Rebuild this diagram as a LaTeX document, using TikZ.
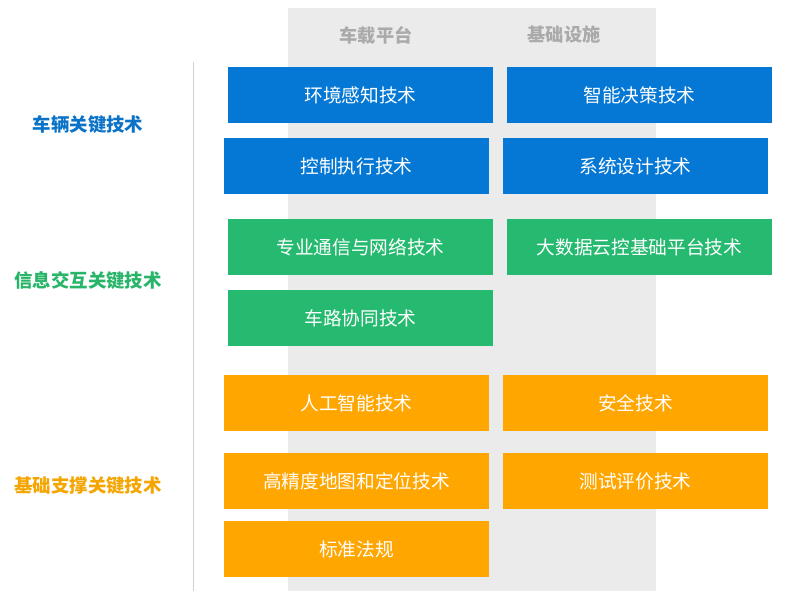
\documentclass[tikz,border=0pt]{standalone}
\usepackage{fontspec}
\newfontfamily\cjk{Noto Sans CJK SC}
\definecolor{cblue}{RGB}{4,120,212}
\definecolor{cgreen}{RGB}{38,186,112}
\definecolor{corange}{RGB}{255,166,0}
\definecolor{lblue}{RGB}{10,115,200}
\definecolor{lgreen}{RGB}{40,180,105}
\definecolor{lorange}{RGB}{245,165,0}
\definecolor{band}{RGB}{235,235,235}
\definecolor{htext}{RGB}{170,170,170}
\definecolor{vline}{RGB}{210,210,210}
\begin{document}
\begin{tikzpicture}[x=1pt,y=-1pt,
  tbox/.style={minimum width=265pt,minimum height=56pt,inner sep=0pt,text=white,font=\cjk\fontsize{18.7}{22}\selectfont},
  bbox/.style={tbox,fill=cblue},
  gbox/.style={tbox,fill=cgreen},
  obox/.style={tbox,fill=corange},
  head/.style={text=htext,font=\cjk\bfseries\fontsize{18.2}{21}\selectfont},
  lab/.style={font=\cjk\bfseries\fontsize{18.4}{21}\selectfont}]
\useasboundingbox (0,0) rectangle (800,591);
\fill[white] (0,0) rectangle (800,591);
\fill[band] (288,8) rectangle (656,591);
\draw[vline,line width=1.2pt] (193.5,62) -- (193.5,591);
\node[head] (h1) at (376,35) {车载平台};
\node[head] (h2) at (564,35) {基础设施};
\node[lab,text=lblue] (l1) at (88,125) {车辆关键技术};
\node[lab,text=lgreen] (l2) at (88,281) {信息交互关键技术};
\node[lab,text=lorange] (l3) at (88,486) {基础支撑关键技术};
\node[bbox] (b1) at (360.5,95) {环境感知技术};
\node[bbox] (b2) at (639.5,95) {智能决策技术};
\node[bbox] (b3) at (356.5,166) {控制执行技术};
\node[bbox] (b4) at (635.5,166) {系统设计技术};
\node[gbox] (g1) at (360.5,247) {专业通信与网络技术};
\node[gbox] (g2) at (639.5,247) {大数据云控基础平台技术};
\node[gbox] (g3) at (360.5,318) {车路协同技术};
\node[obox] (o1) at (356.5,403) {人工智能技术};
\node[obox] (o2) at (635.5,403) {安全技术};
\node[obox] (o3) at (356.5,481) {高精度地图和定位技术};
\node[obox] (o4) at (635.5,481) {测试评价技术};
\node[obox] (o5) at (356.5,549) {标准法规};
\end{tikzpicture}
\end{document}
